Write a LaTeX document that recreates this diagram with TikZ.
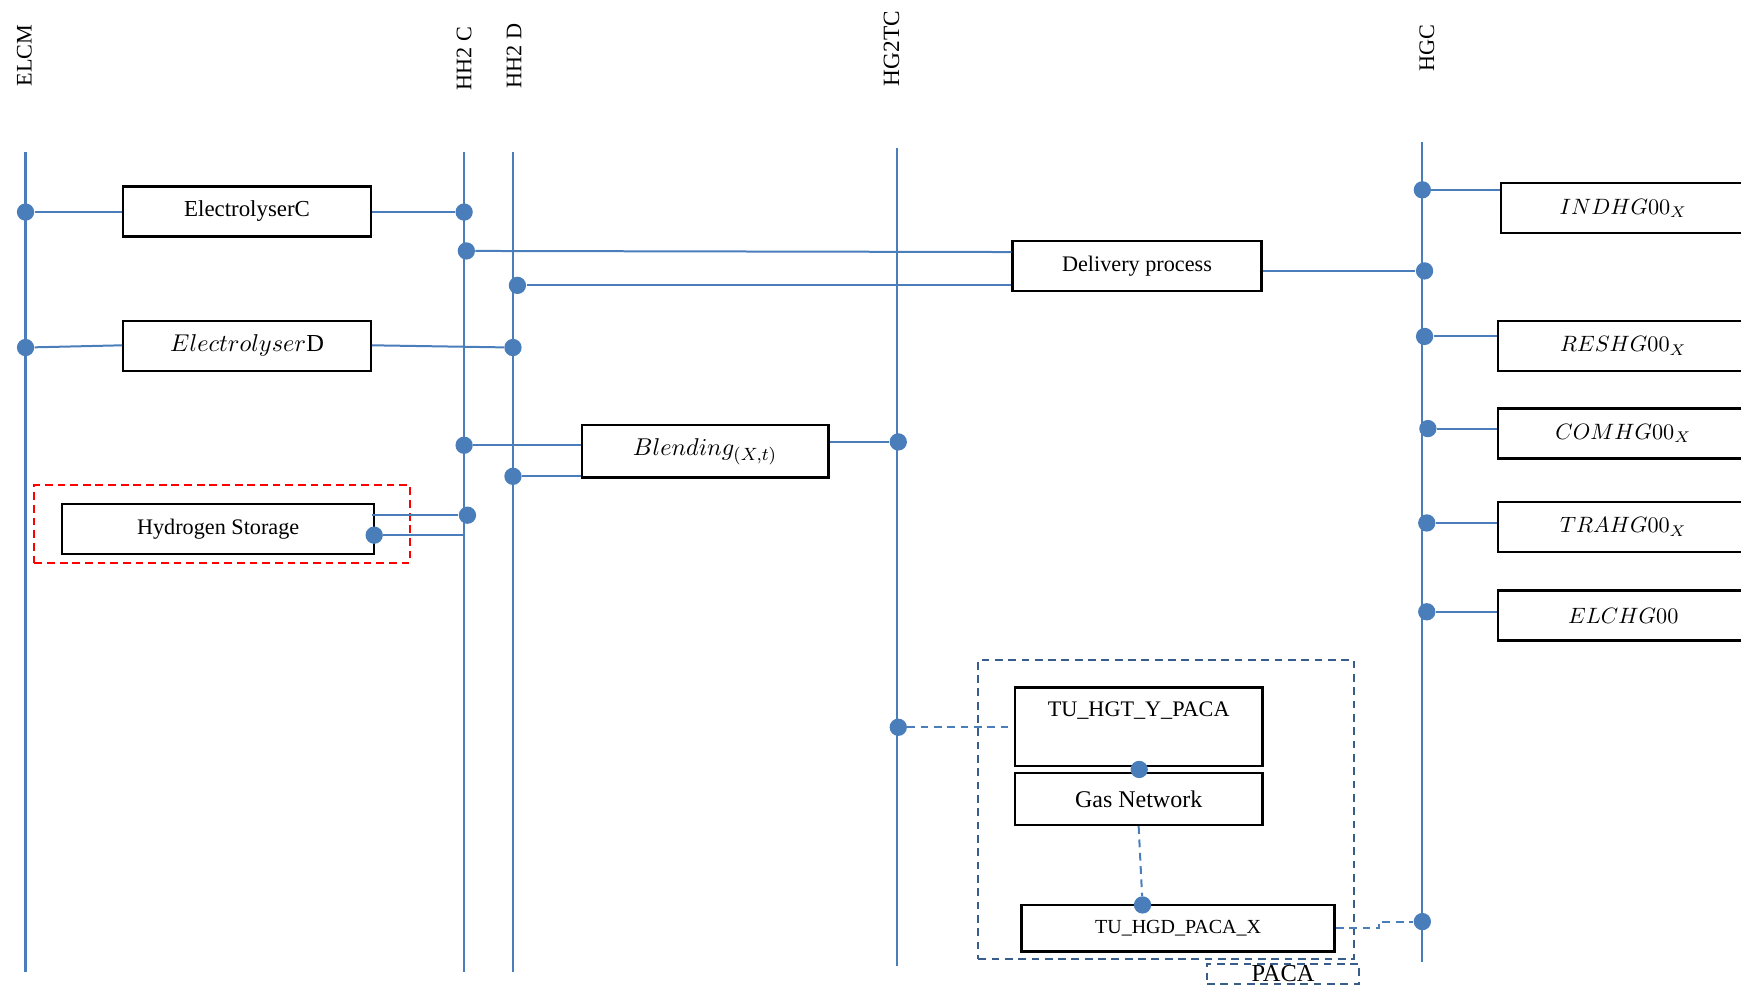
\documentclass[tikz,border=0pt]{standalone}
\usepackage{fontspec}
\setmainfont{Liberation Serif}
\usetikzlibrary{calc}
\definecolor{lblue}{HTML}{4A7EBB}
\definecolor{dblue}{HTML}{385D8A}
\newcommand\myfs[1]{\fontsize{#1pt}{#1pt}\selectfont}
\tikzset{
  bus/.style={draw=lblue, line width=1pt},
  link/.style={draw=lblue, line width=0.9pt},
  dlink/.style={draw=lblue, line width=0.9pt, dash pattern=on 3.5pt off 2.5pt},
  dot/.style={circle, fill=lblue, inner sep=0pt, minimum size=7.8pt},
  box/.style={draw=black, line width=1.1pt, inner sep=0pt, align=center, font=\myfs{10}},
  rbox/.style={box, minimum width=113pt, minimum height=22.5pt, font=\myfs{10}},
  lab/.style={rotate=90, anchor=west, inner sep=0pt, font=\myfs{10}},
  grp/.style={draw=dblue, line width=0.9pt, dash pattern=on 3.5pt off 2.5pt, inner sep=0pt},
}
\begin{document}
\begin{tikzpicture}[x=0.5pt, y=-0.5pt]
\useasboundingbox (0,0) rectangle (1568,891.6);
\clip (0,0) rectangle (1568,891.6);

% bus labels
\node[lab] (lELCM) at (22,78) {ELCM};
\node[lab] (lHHC) at (418,82) {HH2 C};
\node[lab] (lHHD) at (463,80) {HH2 D};
\node[lab, font=\myfs{10.5}] (lHGT) at (803,78) {HG2TC};
\node[lab] (lHGC) at (1285,65) {HGC};

% bus end points
\coordinate (elcmT) at (23,137);  \coordinate (elcmB) at (23,875);
\coordinate (hhcT) at (418,137);  \coordinate (hhcB) at (418,875);
\coordinate (hhdT) at (462,137);  \coordinate (hhdB) at (462,875);
\coordinate (hgtT) at (808,133);  \coordinate (hgtB) at (808,870);
\coordinate (hgcT) at (1281,128); \coordinate (hgcB) at (1281,866);

% boxes
\node[box, minimum width=111.5pt, minimum height=22.5pt, font=\myfs{10.3}] (elc) at (222.5,190.5) {ElectrolyserC};
\node[box, minimum width=111.5pt, minimum height=22.5pt, font=\myfs{11}] (eld) at (222.5,311.5) {$Electrolyser$D};
\node[box, minimum width=112pt, minimum height=22.5pt] (del) at (1024,239.5) {Delivery process};
\node[box, minimum width=111pt, minimum height=23.5pt, font=\myfs{11}] (blend) at (635,406.5) {$Blending_{(X,t)}$};
\node[box, minimum width=140.5pt, minimum height=22.5pt] (hs) at (196.5,476.5) {Hydrogen Storage};
\node[draw=red, line width=0.9pt, dash pattern=on 3.5pt off 2.2pt, inner sep=0pt,
      minimum width=169pt, minimum height=35pt] (hsgrp) at (200,472) {};

\node[rbox, minimum width=110pt] (ind) at (1462,187.5) {$INDHG00_{X}$};
\node[rbox] (res) at (1462,311.5) {$RESHG00_{X}$};
\node[rbox] (com) at (1462,390.5) {$COMHG00_{X}$};
\node[rbox] (tra) at (1462,474.5) {$TRAHG00_{X}$};
\node[rbox] (elch) at (1462,554.5) {$ELCHG00$};

% PACA group
\node[grp, minimum width=169pt, minimum height=135pt] (pacagrp) at (1050,729) {};
\node[box, minimum width=111.5pt, minimum height=35.5pt] (tuhgt) at (1025.5,654.5) {};
\node[inner sep=0pt, font=\myfs{10}] (tuhgtt) at (1025.5,640) {TU\_HGT\_Y\_PACA};
\node[box, minimum width=111.5pt, minimum height=23.5pt, font=\myfs{10.8}] (gasn) at (1025.5,719.5) {Gas Network};
\node[box, minimum width=141pt, minimum height=21pt, font=\myfs{9}] (tuhgd) at (1061,836) {TU\_HGD\_PACA\_X};
\node[grp, minimum width=68.5pt, minimum height=9pt, font=\myfs{11}] (pacalbl) at (1155.5,877) {PACA};

% dots
\node[dot] (d1) at (23,191) {};
\node[dot] (d2) at (418,191) {};
\node[dot] (d3) at (420,226) {};
\node[dot] (d4) at (466,257) {};
\node[dot] (d5) at (23,313) {};
\node[dot] (d6) at (462,313) {};
\node[dot] (d7) at (1283,244) {};
\node[dot] (d8) at (418,401) {};
\node[dot] (d9) at (462,429) {};
\node[dot] (d10) at (809,398) {};
\node[dot] (d11) at (421,464) {};
\node[dot] (d12) at (337,482) {};
\node[dot] (d13) at (1281,171) {};
\node[dot] (d14) at (1283,303) {};
\node[dot] (d15) at (1286,386) {};
\node[dot] (d16) at (1285,471) {};
\node[dot] (d17) at (1285,551) {};
\node[dot] (d18) at (809,655) {};
\node[dot] (d19) at (1026,693) {};
\node[dot] (d20) at (1029,815) {};
\node[dot] (d21) at (1281,830) {};

% buses
\draw[bus] (elcmT) -- (elcmB);
\draw[bus] (hhcT) -- (hhcB);
\draw[bus] (hhdT) -- (hhdB);
\draw[bus] (hgtT) -- (hgtB);
\draw[bus] (hgcT) -- (hgcB);

% connectors
\draw[link] (d1) -- (d1 -| elc.west);
\draw[link] (elc.east |- d2) -- (d2);
\draw[link] (d3) -- ($(d3 -| del.west)+(0,1)$);
\draw[link] (d4) -- (d4 -| del.west);
\draw[link] (d5) -- ($(eld.west)+(0,-0.5)$);
\draw[link] ($(eld.east)+(0,-0.5)$) -- (d6);
\draw[link] (del.east |- d7) -- (d7);
\draw[link] (d8) -- (d8 -| blend.west);
\draw[link] (d9) -- (d9 -| blend.west);
\draw[link] ($(blend.east |- d10)$) -- (d10);
\draw[link] ($(hs.east |- d11)+(-3,0)$) -- (d11);
\draw[link] (d12) -- (d12 -| hhcT);
\draw[link] (d13) -- (d13 -| ind.west);
\draw[link] (d14) -- (d14 -| res.west);
\draw[link] (d15) -- (d15 -| com.west);
\draw[link] (d16) -- (d16 -| tra.west);
\draw[link] (d17) -- (d17 -| elch.west);
\draw[dlink] (d18) -- (d18 -| tuhgt.west);
\draw[dlink] (gasn.south) -- (d20);
\draw[dlink] (tuhgd.east) -- ++(39,0) |- (d21);
\end{tikzpicture}
\end{document}
